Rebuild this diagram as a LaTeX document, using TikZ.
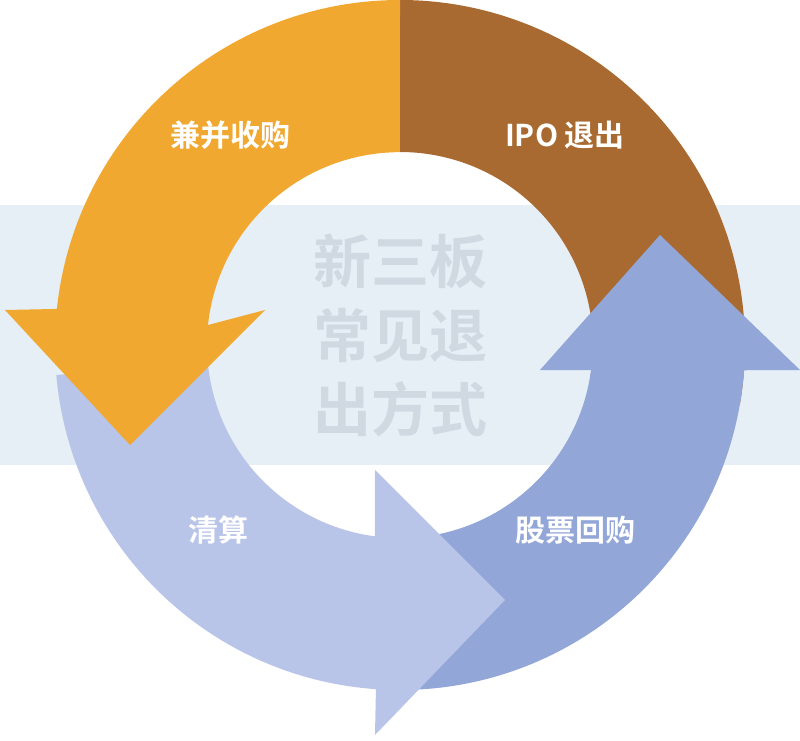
\documentclass[tikz,border=0pt]{standalone}
\usepackage{fontspec}
\newfontfamily\cjk{Noto Sans CJK SC}[BoldFont={Noto Sans CJK SC Bold}]
\usepackage{tikz}
\usetikzlibrary{calc}

\begin{document}
\begin{tikzpicture}[x=1pt,y=1pt]
    % 颜色
    \definecolor{mergeorange}{RGB}{240, 168, 48}
    \definecolor{ipobrown}{RGB}{168, 106, 48}
    \definecolor{liqblue}{RGB}{184, 196, 232}
    \definecolor{buyblue}{RGB}{147, 166, 216}
    \definecolor{bandblue}{RGB}{230, 238, 246}
    \definecolor{titlegray}{RGB}{208, 216, 226}
    \tikzset{seglabel/.style={text=white, font=\cjk\bfseries\fontsize{30}{36}\selectfont}}

    \useasboundingbox (0,0) rectangle (800,740);
    % 背景条
    \fill[bandblue] (0,275) rectangle (800,535);

    % IPO 退出
    \fill[ipobrown] (400,395) ++(90:345) arc[start angle=90, end angle=-10, radius=345]
        -- ($(400,395)+(-10:193)$) arc[start angle=-10, end angle=90, radius=193] -- cycle;
    % 股票回购
    \fill[buyblue] (400,395) ++(272:345) arc[start angle=272, end angle=355.8, radius=345]
        -- (800,370) -- (660,505) -- (540,370) -- (591,370)
        arc[start angle=352.6, end angle=272, radius=193] -- cycle;
    % 清算
    \fill[liqblue] (400,395) ++(185:345) arc[start angle=185, end angle=266, radius=345]
        -- (375,5) -- (505,140) -- (375,270) -- (374.8,203.7)
        arc[start angle=262.5, end angle=185, radius=193] -- cycle;
    % 兼并收购
    \fill[mergeorange] (400,395) ++(90:345) arc[start angle=90, end angle=174, radius=345]
        -- (5,430) -- (130,295) -- (265,430) -- (208,415)
        arc[start angle=174, end angle=90, radius=193] -- cycle;

    % 文字
    \node[seglabel] (merge) at (230,605) {兼并收购};
    \node[seglabel] (ipo) at (565,605) {IPO 退出};
    \node[seglabel] (liq) at (218,210) {清算};
    \node[seglabel] (buy) at (575,210) {股票回购};
    \node[text=titlegray, font=\cjk\bfseries\fontsize{58}{74}\selectfont, align=center] (title) at (400,405)
        {新三板\\常见退\\出方式};
\end{tikzpicture}
\end{document}
